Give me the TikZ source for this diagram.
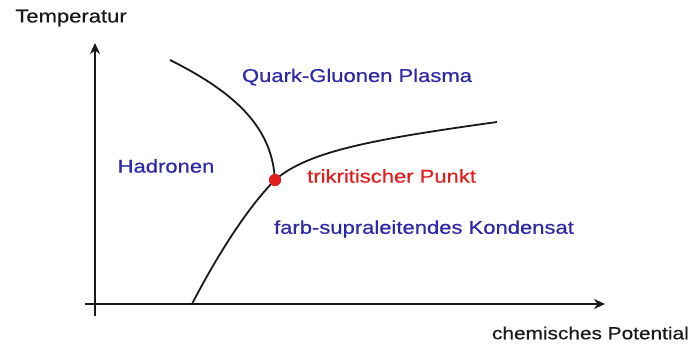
\documentclass[tikz,border=0pt]{standalone}
\usepackage{fontspec}
\setmainfont[FakeStretch=1.19,FakeBold=0.5]{Liberation Sans}
\usetikzlibrary{arrows.meta,positioning}
\definecolor{phase}{RGB}{45,40,165}
\definecolor{critical}{RGB}{225,30,30}
\definecolor{axis}{RGB}{25,25,25}

\begin{document}
\begin{tikzpicture}[
  x=1pt, y=-1pt,
  every node/.style={font=\fontsize{18.5}{20}\selectfont, inner sep=0pt},
  phaselabel/.style={text=phase},
  axislabel/.style={text=axis},
  boundary/.style={line width=1.8pt, draw=axis},
  axisline/.style={line width=2.4pt, draw=axis},
  tripoint/.style={circle, fill=critical, minimum size=12pt},
  >={Stealth[length=11pt,width=10pt]}
]
\useasboundingbox (0,0) rectangle (692,344);

% axes
\coordinate (ybot) at (95,316);
\coordinate (ytop) at (95,43);
\coordinate (xleft) at (85,304);
\coordinate (xright) at (605,304);
\draw[axisline, ->] (ybot) -- (ytop);
\draw[axisline, ->] (xleft) -- (xright);

\node[axislabel] (tlabel) at (71,18) {Temperatur};
\node[axislabel, anchor=east, font=\fontsize{17.5}{20}\selectfont] (mulabel) at (689,333) {chemisches Potential};

% phase boundaries
\coordinate (qgpstart) at (170,60);
\coordinate (base) at (192,304);
\coordinate (cflend) at (497,122);
\node[tripoint] (tp) at (275,180) {};

\draw[boundary] (qgpstart) .. controls (240,95) and (272,130) .. (tp.center);
\draw[boundary] (base) .. controls (220,250) and (250,205) .. (tp.center);
\draw[boundary] (tp.center) .. controls (308,151) and (375,139) .. (cflend);
\node[tripoint] at (tp) {};

% labels
\node[phaselabel] (qgp) at (357,77) {Quark-Gluonen Plasma};
\node[phaselabel] (hadr) at (166,166) {Hadronen};
\node[text=critical, anchor=west] (tplabel) at (307,176) {trikritischer Punkt};
\node[phaselabel] (cfl) at (424,229) {farb-supraleitendes Kondensat};

\end{tikzpicture}
\end{document}
